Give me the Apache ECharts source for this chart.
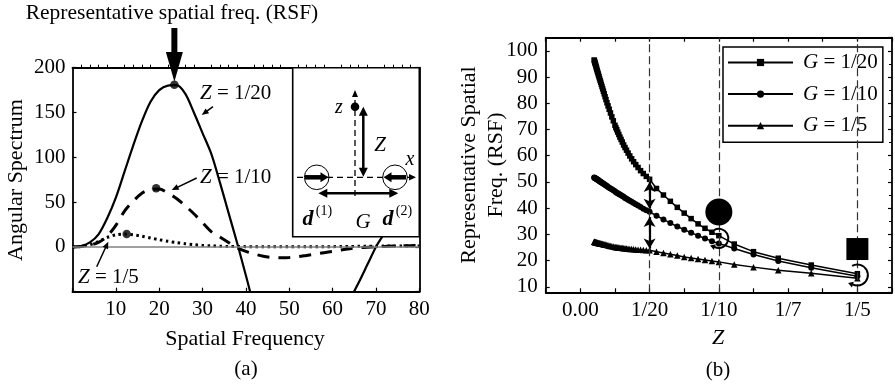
<!DOCTYPE html>
<html lang="en">
<head>
<meta charset="UTF-8">
<title>Angular spectrum and RSF</title>
<script src="https://cdn.jsdelivr.net/npm/echarts@6/dist/echarts.min.js"></script>
<style>
  body { margin: 0; background: #fff; }
  #chart { width: 895px; height: 386px; }
</style>
</head>
<body>
<div id="chart"></div>
<script>
// ---- (a) angular spectrum vs spatial frequency ----
var freqX = [0, 2, 4, 6, 8, 10, 12, 14, 16, 18, 20, 22, 24, 26, 28, 30, 32, 34, 36, 38, 40,
             42, 44, 46, 48, 50, 52, 54, 56, 58, 60, 62, 64, 66, 68, 70, 72, 74, 76, 78, 80];
var specZ20 = [0, 1, 5, 14, 32, 55, 84, 113, 140, 162, 175, 180, 180.5, 171, 150, 127, 104, 72, 38, 4, -32,
               -68, -97, -118, -130, -135, -133, -126, -115, -102, -87, -72, -58, -40, -20, 0, 16, 38, 60, 80, 100];
var specZ10 = [0, 0.5, 2, 5, 12, 24, 40, 51, 60, 64, 64.5, 60, 54, 46, 37, 27, 17, 11, 5, -1, -5,
               -8, -10.5, -11.8, -12, -11.8, -11, -9.5, -8, -6.5, -5, -3.5, -2, -1, -0.5, 0, 0.5, 1, 1.2, 1.4, 1.5];
var specZ5 = [0, 0.5, 2.5, 6, 10.5, 13.5, 14.3, 13.5, 12, 10, 8, 6.3, 4.8, 3.5, 2.5, 1.7, 1.2, 0.8, 0.5, 0.4, 0.3,
              0.3, 0.3, 0.3, 0.3, 0.3, 0.3, 0.3, 0.3, 0.3, 0.3, 0.4, 0.5, 0.6, 0.7, 0.8, 0.9, 1, 1, 1, 1];
var peakPoints = [[23.5, 181], [19.3, 65.5], [12.5, 14.3]];

// ---- (b) RSF vs Z ----
var zValues = [
    0.01000, 0.01020, 0.01042, 0.01064, 0.01087, 0.01111, 0.01136, 0.01163, 0.01190, 0.01220,
    0.01250, 0.01282, 0.01316, 0.01351, 0.01389, 0.01429, 0.01471, 0.01515, 0.01563, 0.01613,
    0.01667, 0.01724, 0.01786, 0.01852, 0.01923, 0.02000, 0.02083, 0.02174, 0.02273, 0.02381,
    0.02500, 0.02564, 0.02632, 0.02703, 0.02778, 0.02857, 0.02941, 0.03030, 0.03125, 0.03226,
    0.03333, 0.03448, 0.03571, 0.03704, 0.03846, 0.04000, 0.04167, 0.04348, 0.04545, 0.04762,
    0.05000, 0.055, 0.060, 0.065, 0.070, 0.075, 0.080, 0.085, 0.090, 0.095, 0.100,
    0.1111, 0.125, 0.1429, 0.1667, 0.200];
var rsfG20 = [
    96.5, 96.1, 95.7, 95.3, 94.9, 94.5, 94.0, 93.5, 93.0, 92.4,
    91.9, 91.3, 90.7, 90.1, 89.4, 88.7, 88.0, 87.2, 86.4, 85.5,
    84.6, 83.6, 82.5, 81.4, 80.2, 79.0, 77.7, 76.3, 74.8, 73.3,
    71.6, 70.7, 69.9, 69.0, 68.1, 67.1, 66.2, 65.2, 64.1, 63.1,
    62.1, 61.0, 59.9, 58.8, 57.7, 56.6, 55.5, 54.3, 53.2, 52.1,
    51.0, 47.5, 45.0, 42.6, 40.3, 38.1, 36.0, 34.0, 32.3, 30.8, 29.5,
    26.3, 23.4, 20.9, 18.3, 15.0];
var rsfG10 = [
    51.7, 51.6, 51.5, 51.4, 51.4, 51.3, 51.2, 51.1, 51.0, 50.9,
    50.8, 50.7, 50.6, 50.4, 50.3, 50.2, 50.0, 49.9, 49.7, 49.5,
    49.3, 49.1, 48.9, 48.6, 48.4, 48.1, 47.8, 47.5, 47.2, 46.8,
    46.4, 46.1, 45.9, 45.7, 45.4, 45.2, 44.9, 44.6, 44.3, 43.9,
    43.6, 43.2, 42.8, 42.4, 42.0, 41.5, 41.0, 40.4, 39.8, 39.2,
    38.6, 37.1, 35.7, 34.3, 33.0, 31.8, 30.6, 29.5, 28.4, 27.4, 26.5,
    24.6, 22.3, 19.8, 17.3, 14.0];
var rsfG5 = [
    27.2, 27.2, 27.1, 27.1, 27.0, 27.0, 27.0, 26.9, 26.9, 26.8,
    26.8, 26.7, 26.7, 26.6, 26.6, 26.5, 26.5, 26.4, 26.4, 26.3,
    26.2, 26.1, 26.1, 26.0, 25.9, 25.8, 25.7, 25.6, 25.5, 25.4,
    25.2, 25.2, 25.1, 25.0, 25.0, 24.9, 24.9, 24.8, 24.7, 24.7,
    24.6, 24.5, 24.4, 24.4, 24.3, 24.2, 24.1, 24.1, 24.0, 23.9,
    23.9, 23.4, 22.9, 22.4, 21.9, 21.4, 21.0, 20.6, 20.2, 19.8, 19.5,
    18.5, 17.5, 16.3, 15.2, 13.3];
var seriesNames = ['G = 1/20', 'G = 1/10', 'G = 1/5'];
var zTickLabels = ['0.00', '1/20', '1/10', '1/7', '1/5'];
var markedZ = [0.05, 0.1, 0.2];
var gapArrows = [[[0.05, 50], [0.05, 39.8]], [[0.05, 36.6], [0.05, 24.6]]];
var bigDot = [0.1, 38.5];
var bigSquare = [0.2, 24.4];
var rotMarks = [[0.1, 28.5, 9.5], [0.2, 14.5, 10.5]];

var SERIF = 'Liberation Serif';

function zip(xs, ys) {
    return xs.map(function (x, i) { return [x, ys[i]]; });
}

function boxAxis(extra) {
    var base = {
        axisLine: { show: true, onZero: false, lineStyle: { color: '#000', width: 1.8 } },
        axisTick: { show: true, inside: true, length: 4, lineStyle: { color: '#000', width: 1.2 } },
        axisLabel: { show: false },
        splitLine: { show: false }
    };
    return Object.assign(base, extra);
}

var labelStyle = { fontFamily: SERIF, fontSize: 21, color: '#000' };

var chart = echarts.init(document.getElementById('chart'));

var option = {
    animation: false,
    backgroundColor: '#fff',
    grid: [
        { left: 72.5, top: 67.7, right: 475.7, bottom: 94.3 },
        { left: 545.7, top: 37.7, right: 2.3, bottom: 93.7 }
    ],
    legend: {
        data: seriesNames,
        orient: 'vertical',
        left: 723, top: 47,
        padding: [5, 5, 6, 4],
        itemGap: 10.6,
        itemWidth: 65, itemHeight: 9,
        backgroundColor: '#fff',
        borderColor: '#000', borderWidth: 1.5,
        formatter: function (name) { return '{i|G}' + name.slice(1); },
        textStyle: {
            fontFamily: SERIF, fontSize: 21, color: '#000', lineHeight: 21,
            padding: [0, 0, 0, 5],
            rich: { i: { fontFamily: SERIF, fontSize: 21, fontStyle: 'italic', color: '#000' } }
        }
    },
    xAxis: [
        boxAxis({
            gridIndex: 0, type: 'value', min: 0, max: 80, interval: 10,
            axisLabel: Object.assign({ show: true, margin: 7,
                formatter: function (v) { return v === 0 ? '' : v; } }, labelStyle)
        }),
        boxAxis({
            gridIndex: 0, type: 'value', position: 'top', min: 0, max: 80, interval: 10,
            axisTick: { show: false },
            minorTick: { show: true, splitNumber: 5, length: 3, lineStyle: { color: '#000', width: 1 } }
        }),
        boxAxis({
            gridIndex: 1, type: 'value', min: -0.025, max: 0.225, interval: 0.025,
            axisLabel: Object.assign({ show: true, margin: 8,
                formatter: function (v) {
                    var k = Math.round(v / 0.05);
                    if (Math.abs(v - k * 0.05) < 1e-6 && k >= 0 && k < zTickLabels.length) return zTickLabels[k];
                    return '';
                } }, labelStyle)
        }),
        boxAxis({
            gridIndex: 1, type: 'value', position: 'top', min: -0.025, max: 0.225, interval: 0.025
        })
    ],
    yAxis: [
        boxAxis({
            gridIndex: 0, type: 'value', min: -50, max: 200, interval: 50,
            axisLabel: Object.assign({ show: true, margin: 7,
                formatter: function (v) { return v < 0 ? '' : v; } }, labelStyle)
        }),
        boxAxis({
            gridIndex: 0, type: 'value', position: 'right', min: -50, max: 200, interval: 50
        }),
        boxAxis({
            gridIndex: 1, type: 'value', min: 7.9, max: 105, splitNumber: 10,
            axisLabel: Object.assign({ show: true, margin: 8, showMinLabel: false, showMaxLabel: false }, labelStyle)
        }),
        boxAxis({
            gridIndex: 1, type: 'value', position: 'right', min: 7.9, max: 105, splitNumber: 10,
            minorTick: { show: true, splitNumber: 2, length: 3, lineStyle: { color: '#000', width: 1 } }
        })
    ],
    series: [
        // zero reference line of (a)
        {
            type: 'line', xAxisIndex: 0, yAxisIndex: 0, data: [], z: 1,
            markLine: {
                silent: true, symbol: 'none', label: { show: false },
                lineStyle: { color: '#808080', width: 1.6, type: 'solid' },
                data: [{ yAxis: 0 }]
            }
        },
        {
            name: 'Z = 1/20', type: 'line', xAxisIndex: 0, yAxisIndex: 0,
            data: zip(freqX, specZ20), showSymbol: false, smooth: 0.3,
            lineStyle: { color: '#000', width: 2.2 }
        },
        {
            name: 'Z = 1/10', type: 'line', xAxisIndex: 0, yAxisIndex: 0,
            data: zip(freqX, specZ10), showSymbol: false, smooth: 0.3,
            lineStyle: { color: '#000', width: 3, type: [12, 9] }
        },
        {
            name: 'Z = 1/5', type: 'line', xAxisIndex: 0, yAxisIndex: 0,
            data: zip(freqX, specZ5), showSymbol: false, smooth: 0.3,
            lineStyle: { color: '#000', width: 3, type: [2.5, 3.5] }
        },
        {
            type: 'scatter', xAxisIndex: 0, yAxisIndex: 0, data: peakPoints,
            symbol: 'circle', symbolSize: 8.5, itemStyle: { color: '#000' }, z: 4
        },
        // vertical reference lines of (b)
        {
            type: 'line', xAxisIndex: 2, yAxisIndex: 2, data: [], z: 1,
            markLine: {
                silent: true, symbol: 'none', label: { show: false },
                lineStyle: { color: '#333', width: 1.2, type: [8, 4] },
                data: markedZ.map(function (z) { return { xAxis: z }; })
            }
        },
        {
            name: seriesNames[0], type: 'line', xAxisIndex: 2, yAxisIndex: 2,
            data: zip(zValues, rsfG20), symbol: 'rect', symbolSize: 5.5, showAllSymbol: true,
            lineStyle: { color: '#000', width: 1.5 }, itemStyle: { color: '#000' }
        },
        {
            name: seriesNames[1], type: 'line', xAxisIndex: 2, yAxisIndex: 2,
            data: zip(zValues, rsfG10), symbol: 'circle', symbolSize: 6, showAllSymbol: true,
            lineStyle: { color: '#000', width: 1.5 }, itemStyle: { color: '#000' }
        },
        {
            name: seriesNames[2], type: 'line', xAxisIndex: 2, yAxisIndex: 2,
            data: zip(zValues, rsfG5), symbol: 'triangle', symbolSize: 6.5, showAllSymbol: true,
            lineStyle: { color: '#000', width: 1.5 }, itemStyle: { color: '#000' }
        },
        // annotations of (b)
        {
            type: 'line', xAxisIndex: 2, yAxisIndex: 2, data: [], z: 5,
            markLine: {
                silent: true, symbol: ['arrow', 'arrow'], symbolSize: [9, 10], label: { show: false },
                lineStyle: { color: '#000', width: 2.2, type: 'solid' },
                data: gapArrows.map(function (p) { return [{ coord: p[0] }, { coord: p[1] }]; })
            },
            markPoint: {
                silent: true, label: { show: false }, itemStyle: { color: '#000' },
                data: [
                    { coord: bigDot, symbol: 'circle', symbolSize: 27 },
                    { coord: bigSquare, symbol: 'rect', symbolSize: 22 }
                ]
            }
        }
    ]
};

chart.setOption(option);

// ---- drawn annotations ----
function txt(x, y, text, size, extra) {
    return {
        type: 'text', x: x, y: y, z: 30,
        style: Object.assign({ text: text, fontFamily: SERIF, fontSize: size, fill: '#000',
            align: 'center', verticalAlign: 'middle' }, extra || {})
    };
}
function seg(x1, y1, x2, y2, w, dash) {
    return { type: 'line', z: 30, shape: { x1: x1, y1: y1, x2: x2, y2: y2 },
        style: { stroke: '#000', lineWidth: w, lineDash: dash || null } };
}
function head(xt, yt, xf, yf, len, half) {
    var dx = xt - xf, dy = yt - yf, d = Math.sqrt(dx * dx + dy * dy);
    var ux = dx / d, uy = dy / d;
    var bx = xt - ux * len, by = yt - uy * len;
    return { type: 'polygon', z: 31, shape: { points: [[xt, yt], [bx - uy * half, by + ux * half], [bx + uy * half, by - ux * half]] },
        style: { fill: '#000' } };
}
function arrow(x1, y1, x2, y2, w, len, half) {
    var dx = x2 - x1, dy = y2 - y1, d = Math.sqrt(dx * dx + dy * dy);
    return [seg(x1, y1, x2 - dx / d * len * 0.8, y2 - dy / d * len * 0.8, w), head(x2, y2, x1, y1, len, half)];
}
function dblArrow(x1, y1, x2, y2, w, len, half) {
    var dx = x2 - x1, dy = y2 - y1, d = Math.sqrt(dx * dx + dy * dy);
    var ox = dx / d * len * 0.8, oy = dy / d * len * 0.8;
    return [seg(x1 + ox, y1 + oy, x2 - ox, y2 - oy, w), head(x2, y2, x1, y1, len, half), head(x1, y1, x2, y2, len, half)];
}

var els = [];
var italic = { i: { fontStyle: 'italic', fontFamily: SERIF, fontSize: 21, fill: '#000' } };

// RSF arrow on the main peak
var pk = chart.convertToPixel({ xAxisIndex: 0, yAxisIndex: 0 }, peakPoints[0]);
els.push(txt(172, 13, 'Representative spatial freq. (RSF)', 21.5));
els.push({ type: 'rect', z: 30, shape: { x: pk[0] - 3, y: 28, width: 6, height: 27 }, style: { fill: '#000' } });
els.push({ type: 'polygon', z: 30, shape: { points: [[pk[0] - 8.5, 52], [pk[0] + 8.5, 52], [pk[0], pk[1] - 3]] }, style: { fill: '#000' } });

// curve labels in (a)
els.push(txt(200, 93, '{i|Z} = 1/20', 21, { align: 'left', rich: italic }));
els = els.concat(arrow(213, 106.7, 201.7, 115, 1.5, 7, 3));
els.push(txt(200, 177, '{i|Z} = 1/10', 21, { align: 'left', rich: italic }));
els = els.concat(arrow(196.7, 178, 171.7, 190, 1.5, 7, 3));
els.push(txt(78, 277, '{i|Z} = 1/5', 21, { align: 'left', rich: italic }));
els = els.concat(arrow(96.7, 266.7, 108.3, 241.7, 1.5, 7, 3));

// inset sketch
els.push({ type: 'rect', z: 25, shape: { x: 292.7, y: 67.7, width: 126.6, height: 169 },
    style: { fill: '#fff', stroke: '#000', lineWidth: 1.6 } });
els.push(seg(297, 177.3, 410, 177.3, 1.3, [6, 4]));
els.push(head(416, 177.3, 400, 177.3, 7, 3.3));
els.push(seg(355, 196, 355, 97, 1.3, [6, 4]));
els.push(head(355, 90, 355, 110, 7, 3));
els.push({ type: 'circle', z: 31, shape: { cx: 355, cy: 106.7, r: 4.3 }, style: { fill: '#000' } });
els = els.concat(dblArrow(363.3, 106.7, 363.3, 176.7, 2.5, 9, 4.5));
els.push({ type: 'circle', z: 30, shape: { cx: 316.7, cy: 177.3, r: 12.3 }, style: { fill: null, stroke: '#000', lineWidth: 1 } });
els.push({ type: 'circle', z: 30, shape: { cx: 395, cy: 177.3, r: 12.3 }, style: { fill: null, stroke: '#000', lineWidth: 1 } });
els = els.concat(arrow(305, 177.3, 328.5, 177.3, 4.5, 8, 5));
els = els.concat(arrow(406, 177.3, 383.5, 177.3, 4.5, 8, 5));
els = els.concat(dblArrow(318.3, 193.3, 398.3, 193.3, 2.5, 9, 4.5));
els.push(txt(339, 108, 'z', 20, { fontStyle: 'italic' }));
els.push(txt(380, 145, 'Z', 21, { fontStyle: 'italic' }));
els.push(txt(410, 160, 'x', 20, { fontStyle: 'italic' }));
els.push(txt(308, 219, 'd', 22, { fontStyle: 'italic', fontWeight: 'bold' }));
els.push(txt(324, 211, '(1)', 14));
els.push(txt(388, 219, 'd', 22, { fontStyle: 'italic', fontWeight: 'bold' }));
els.push(txt(404, 211, '(2)', 14));
els.push(txt(363, 222, 'G', 21, { fontStyle: 'italic' }));

// axis titles and panel captions
els.push(txt(16, 180, 'Angular Spectrum', 22, {}));
els[els.length - 1].rotation = Math.PI / 2;
els.push(txt(245, 339, 'Spatial Frequency', 22));
els.push(txt(246, 369, '(a)', 21));
els.push(txt(483, 165, 'Representative Spatial\nFreq. (RSF)', 22, { lineHeight: 27 }));
els[els.length - 1].rotation = Math.PI / 2;
els.push(txt(718, 338, 'Z', 22, { fontStyle: 'italic' }));
els.push(txt(718, 370, '(b)', 21));

// rotation marks in (b)
rotMarks.forEach(function (m) {
    var c = chart.convertToPixel({ xAxisIndex: 2, yAxisIndex: 2 }, [m[0], m[1]]);
    var r = m[2], a0 = -2 * Math.PI / 3, a1 = 2 * Math.PI / 3;
    els.push({ type: 'arc', z: 30, shape: { cx: c[0], cy: c[1], r: r, startAngle: a0, endAngle: a1, clockwise: true },
        style: { stroke: '#000', lineWidth: 2, fill: null } });
    var ex = c[0] + r * Math.cos(a1), ey = c[1] + r * Math.sin(a1);
    els.push(head(ex - 4, ey - 1, ex + 2, ey + 1, 5, 3));
});

chart.setOption({ graphic: els });
</script>
</body>
</html>
